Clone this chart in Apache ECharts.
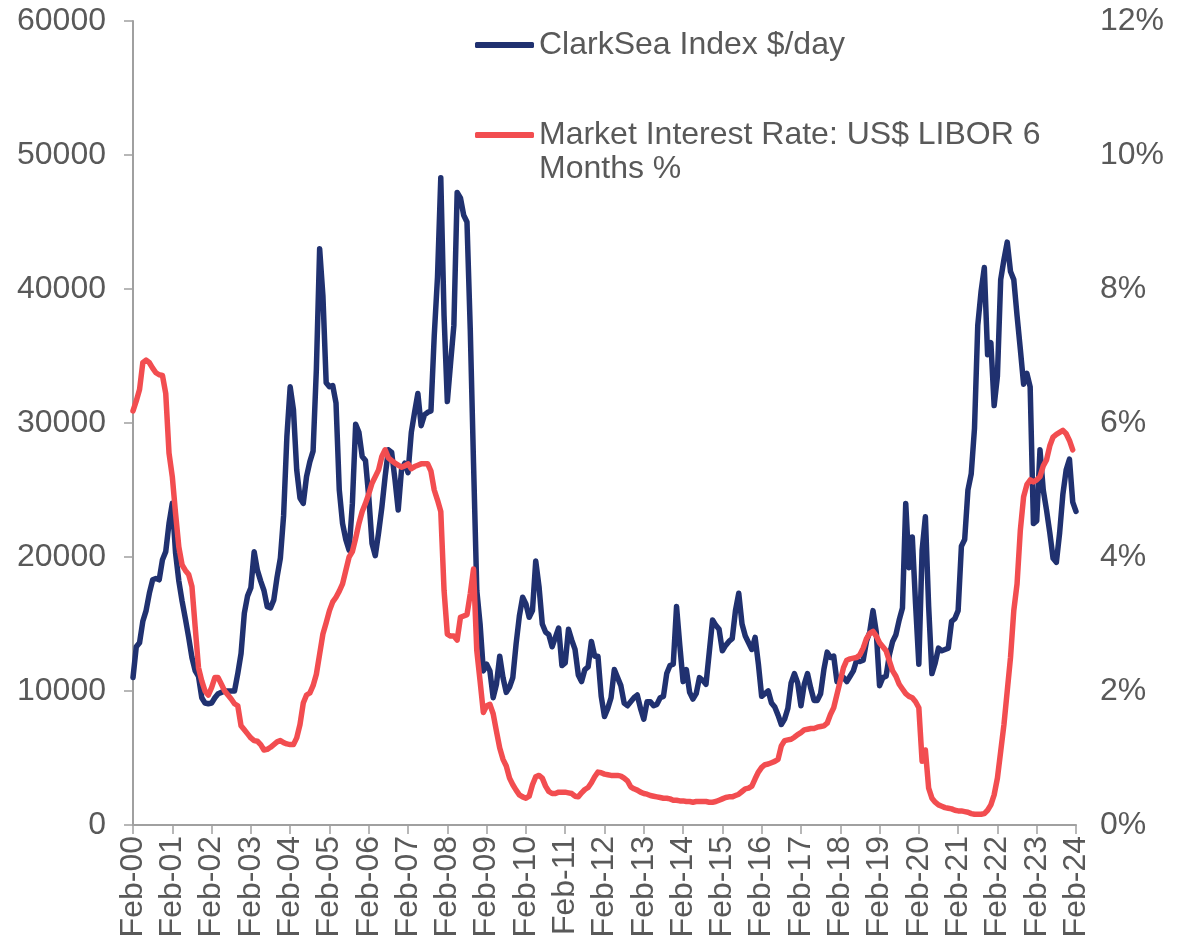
<!DOCTYPE html>
<html>
<head>
    <meta charset="utf-8">
    <title>ClarkSea vs LIBOR</title>
    <script src="https://cdn.jsdelivr.net/npm/echarts@6/dist/echarts.min.js"></script>
    <style>
        html, body { margin: 0; padding: 0; background: #fff; }
        #main { width: 1198px; height: 943px; }
    </style>
</head>
<body>
<div id="main"></div>
<script>
    // monthly, Feb-00 .. Feb-24
    var monthNames = ['Jan','Feb','Mar','Apr','May','Jun','Jul','Aug','Sep','Oct','Nov','Dec'];
    var categories = [];
    for (var i = 0; i < 289; i++) {
        var k = i + 1;
        var yy = Math.floor(k / 12);
        categories.push(monthNames[k % 12] + '-' + (yy < 10 ? '0' + yy : '' + yy));
    }

    // ClarkSea Index $/day
    var clarksea = [
        11000, 13300, 13600, 15200, 16000, 17300, 18300, 18400, 18300, 19800, 20400, 22500,
        24000, 20300, 18200, 16700, 15400, 14000, 12500, 11500, 11100, 9500, 9100, 9050,
        9100, 9500, 9800, 9900, 10000, 10000, 10000, 10000, 11300, 12800, 15800, 17100,
        17700, 20400, 19000, 18200, 17500, 16300, 16200, 16800, 18500, 19900, 23100, 29000,
        32700, 31000, 26500, 24400, 24000, 26000, 27100, 27900, 34000, 43000, 39500, 33000,
        32700, 32800, 31500, 25000, 22500, 21300, 20500, 24000, 29900, 29300, 27500, 27200,
        24500, 21000, 20100, 21800, 23700, 26000, 28000, 27800, 25800, 23500, 26500, 27000,
        26300, 29300, 30800, 32200, 29800, 30600, 30800, 30900, 36500, 40900, 48300, 38000,
        31600, 34500, 37300, 47200, 46800, 45500, 45000, 37000, 27000, 17500, 15000, 11500,
        12000, 11500, 9500, 10500, 12600, 11000, 9900, 10300, 11000, 13500, 15600, 17000,
        16500, 15500, 16000, 19700, 17800, 15000, 14400, 14200, 13300, 14000, 14700, 11900,
        12100, 14600, 13800, 13100, 11200, 10700, 11600, 11800, 13700, 12600, 12600, 9600,
        8100, 8700, 9500, 11600, 11000, 10400, 9100, 8900, 9200, 9500, 9700, 8700,
        7900, 9200, 9200, 8900, 9000, 9500, 9600, 11300, 11900, 12000, 16300, 13400,
        10700, 11600, 9900, 9400, 9800, 11000, 10800, 10500, 12900, 15300, 14900, 14600,
        13000, 13400, 13700, 13900, 16000, 17300, 15000, 14100, 13600, 13100, 14000, 12000,
        9600, 9800, 10000, 9100, 8800, 8200, 7500, 7900, 8700, 10600, 11300, 10600,
        8900, 10500, 11300, 10200, 9300, 9300, 9800, 11600, 12900, 12500, 12600, 10700,
        10900, 11000, 10700, 11100, 11500, 12300, 12200, 12300, 13700, 14400, 16000, 14400,
        10400, 11000, 11100, 12700, 13700, 14200, 15300, 16200, 24000, 19200, 21500, 16500,
        12000, 20500, 23000, 16300, 11300, 12100, 13200, 13000, 13100, 13200, 15200, 15400,
        16000, 20800, 21300, 25000, 26200, 29600, 37300, 39800, 41600, 35100, 36000, 31300,
        33500, 40700, 42200, 43500, 41300, 40700, 38000, 35500, 32900, 33700, 32700, 22500,
        22700, 28000, 25000, 23500, 21800, 19900, 19600, 21800, 24700, 26500, 27300, 24100,
        23400
    ];

    // Market Interest Rate: US$ LIBOR 6 Months %
    var libor6m = [
        6.18, 6.33, 6.50, 6.90, 6.94, 6.90, 6.82, 6.75, 6.72, 6.71, 6.44, 5.55,
        5.20, 4.65, 4.15, 3.88, 3.80, 3.74, 3.56, 2.95, 2.35, 2.15, 2.00, 1.94,
        2.05, 2.20, 2.20, 2.10, 2.00, 1.94, 1.88, 1.81, 1.78, 1.48, 1.42, 1.36,
        1.30, 1.26, 1.25, 1.20, 1.12, 1.13, 1.16, 1.20, 1.24, 1.26, 1.23, 1.21,
        1.20, 1.20, 1.30, 1.50, 1.82, 1.94, 1.97, 2.08, 2.25, 2.55, 2.85, 3.02,
        3.20, 3.33, 3.40, 3.49, 3.60, 3.80, 4.00, 4.08, 4.28, 4.50, 4.68, 4.80,
        4.94, 5.10, 5.20, 5.30, 5.50, 5.60, 5.48, 5.44, 5.40, 5.37, 5.34, 5.36,
        5.39, 5.32, 5.35, 5.37, 5.39, 5.39, 5.39, 5.28, 5.00, 4.85, 4.68, 3.50,
        2.85, 2.82, 2.82, 2.76, 3.10, 3.12, 3.14, 3.45, 3.82, 2.60, 2.15, 1.68,
        1.78, 1.80, 1.66, 1.40, 1.15, 0.98, 0.88, 0.70, 0.60, 0.52, 0.45, 0.42,
        0.40, 0.43, 0.60, 0.72, 0.74, 0.70, 0.58, 0.50, 0.47, 0.47, 0.49, 0.49,
        0.49, 0.48, 0.47, 0.43, 0.42, 0.48, 0.53, 0.56, 0.63, 0.72, 0.79, 0.78,
        0.76, 0.75, 0.74, 0.74, 0.74, 0.73, 0.70, 0.66, 0.57, 0.54, 0.52, 0.49,
        0.47, 0.46, 0.44, 0.43, 0.42, 0.41, 0.40, 0.40, 0.39, 0.37, 0.37, 0.36,
        0.36, 0.35, 0.35, 0.34, 0.35, 0.35, 0.35, 0.35, 0.34, 0.34, 0.35, 0.37,
        0.39, 0.41, 0.42, 0.42, 0.44, 0.46, 0.50, 0.54, 0.55, 0.58, 0.69, 0.79,
        0.86, 0.90, 0.91, 0.93, 0.95, 0.98, 1.18, 1.26, 1.27, 1.28, 1.31, 1.35,
        1.38, 1.42, 1.43, 1.44, 1.44, 1.46, 1.47, 1.48, 1.52, 1.65, 1.75, 1.95,
        2.15, 2.35, 2.46, 2.48, 2.49, 2.50, 2.54, 2.64, 2.78, 2.86, 2.89, 2.82,
        2.72, 2.66, 2.60, 2.45, 2.30, 2.22, 2.10, 2.03, 1.96, 1.92, 1.90, 1.84,
        1.75, 0.95, 1.12, 0.55, 0.40, 0.34, 0.30, 0.28, 0.26, 0.25, 0.24, 0.22,
        0.21, 0.21, 0.20, 0.19, 0.17, 0.16, 0.16, 0.16, 0.17, 0.22, 0.30, 0.45,
        0.70, 1.10, 1.50, 2.00, 2.50, 3.20, 3.60, 4.40, 4.90, 5.08, 5.15, 5.12,
        5.15, 5.20, 5.36, 5.45, 5.66, 5.79, 5.83, 5.86, 5.89, 5.84, 5.74, 5.60,
        null
    ];

    var leftTicks = [0, 60000, 10000];   // min, max, step
    var rightTicks = [0, 12, 2];

    var FONT = '"Liberation Sans", Arial, sans-serif';
    var TXT = '#595959';
    var AXIS = '#A0A0A0';

    var myChart = echarts.init(document.getElementById('main'));
    var option = {
        animation: false,
        grid: { left: 133, right: 122, top: 21, bottom: 118 },
        legend: [
            {
                data: ['ClarkSea Index $/day'],
                left: 470, top: 22,
                icon: 'roundRect', itemWidth: 59, itemHeight: 6,
                textStyle: { fontFamily: FONT, fontSize: 32, color: TXT, lineHeight: 36 }
            },
            {
                data: ['Market Interest Rate: US$ LIBOR 6'],
                left: 470, top: 112,
                icon: 'roundRect', itemWidth: 59, itemHeight: 6,
                textStyle: { fontFamily: FONT, fontSize: 32, color: TXT, lineHeight: 36 }
            }
        ],
        graphic: [
            {
                type: 'text', left: 539, top: 153,
                style: { text: 'Months %', font: '32px ' + FONT, fill: TXT }
            }
        ],
        xAxis: {
            type: 'category',
            data: categories,
            boundaryGap: false,
            axisLine: { lineStyle: { color: AXIS, width: 2 } },
            axisTick: { interval: 11, length: 9, lineStyle: { color: AXIS, width: 1.5 } },
            axisLabel: {
                interval: 11, rotate: 90, margin: 11,
                fontFamily: FONT, fontSize: 32, color: TXT
            }
        },
        yAxis: [
            {
                type: 'value',
                min: leftTicks[0], max: leftTicks[1], interval: leftTicks[2],
                splitLine: { show: false },
                axisLine: { show: true, lineStyle: { color: AXIS, width: 2 } },
                axisTick: { show: true, length: 9, lineStyle: { color: AXIS, width: 1.5 } },
                axisLabel: {
                    margin: 27, fontFamily: FONT, fontSize: 32, color: TXT,
                    formatter: function (v) { return String(v); }
                }
            },
            {
                type: 'value',
                min: rightTicks[0], max: rightTicks[1], interval: rightTicks[2],
                splitLine: { show: false },
                axisLine: { show: false },
                axisTick: { show: false },
                axisLabel: {
                    margin: 24, fontFamily: FONT, fontSize: 32, color: TXT,
                    formatter: '{value}%'
                }
            }
        ],
        series: [
            {
                name: 'ClarkSea Index $/day',
                type: 'line',
                yAxisIndex: 0,
                data: clarksea,
                symbol: 'none',
                color: '#203170',
                lineStyle: { width: 5.5, color: '#203170', cap: 'round', join: 'round' }
            },
            {
                name: 'Market Interest Rate: US$ LIBOR 6',
                type: 'line',
                yAxisIndex: 1,
                data: libor6m,
                symbol: 'none',
                color: '#F24D50',
                lineStyle: { width: 5.5, color: '#F24D50', cap: 'round', join: 'round' }
            }
        ]
    };
    myChart.setOption(option);
</script>
</body>
</html>
